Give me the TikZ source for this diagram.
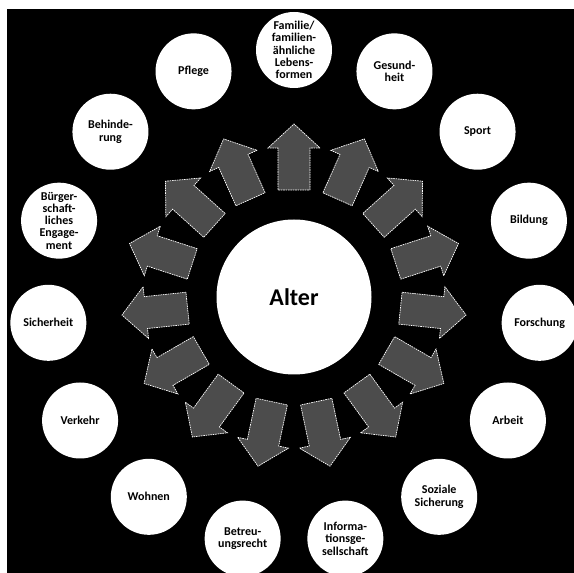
\documentclass[tikz,border=0pt]{standalone}
\usepackage{fontspec}
\setmainfont{Carlito}
\begin{document}
\begin{tikzpicture}[x=1pt,y=1pt,
  topic/.style={circle, fill=white, minimum size=76pt, inner sep=0pt, align=center,
    font=\bfseries\fontsize{12}{12.3}\selectfont, text=black},
  core/.style={circle, fill=white, minimum size=155pt, inner sep=0pt,
    font=\bfseries\fontsize{24}{30}\selectfont, text=black},
  blockarrow/.style={fill=black!70, draw=white, line width=0.7pt,
    dash pattern=on 1.6pt off 0.8pt, line join=miter}
]
\useasboundingbox (0,0) rectangle (574,573);
\fill[white] (0,0) rectangle (574,573);
\fill[black] (7,0) rectangle (574,564);
\coordinate (c) at (294,276);
% arrows
\foreach \a in {90,66,42,18,-6,-30,-54,-78,-102,-126,-150,-174,-198,-222,-246} {
  \begin{scope}[shift={(c)}, rotate=\a]
    \draw[blockarrow] (107,-16) -- (149,-16) -- (149,-26) -- (173,0) -- (149,26) -- (149,16) -- (107,16) -- cycle;
  \end{scope}
}
\node[core] (alter) at (c) {Alter};
\node[topic] (familie) at ([shift={(90:247)}]c) {Familie/\\familien-\\ähnliche\\Lebens-\\formen};
\node[topic] (gesundheit) at ([shift={(66:247)}]c) {Gesund-\\heit};
\node[topic] (sport) at ([shift={(42:247)}]c) {Sport};
\node[topic] (bildung) at ([shift={(18:247)}]c) {Bildung};
\node[topic] (forschung) at ([shift={(-6:247)}]c) {Forschung};
\node[topic] (arbeit) at ([shift={(-30:247)}]c) {Arbeit};
\node[topic] (soziale) at ([shift={(-54:247)}]c) {Soziale\\Sicherung};
\node[topic] (info) at ([shift={(-78:247)}]c) {Informa-\\tionsge-\\sellschaft};
\node[topic] (betreuung) at ([shift={(-102:247)}]c) {Betreu-\\ungsrecht};
\node[topic] (wohnen) at ([shift={(-126:247)}]c) {Wohnen};
\node[topic] (verkehr) at ([shift={(-150:247)}]c) {Verkehr};
\node[topic] (sicherheit) at ([shift={(-174:247)}]c) {Sicherheit};
\node[topic] (buerger) at ([shift={(162:247)}]c) {Bürger-\\schaft-\\liches\\Engage-\\ment};
\node[topic] (behinderung) at ([shift={(138:247)}]c) {Behinde-\\rung};
\node[topic] (pflege) at ([shift={(114:247)}]c) {Pflege};
\end{tikzpicture}
\end{document}
